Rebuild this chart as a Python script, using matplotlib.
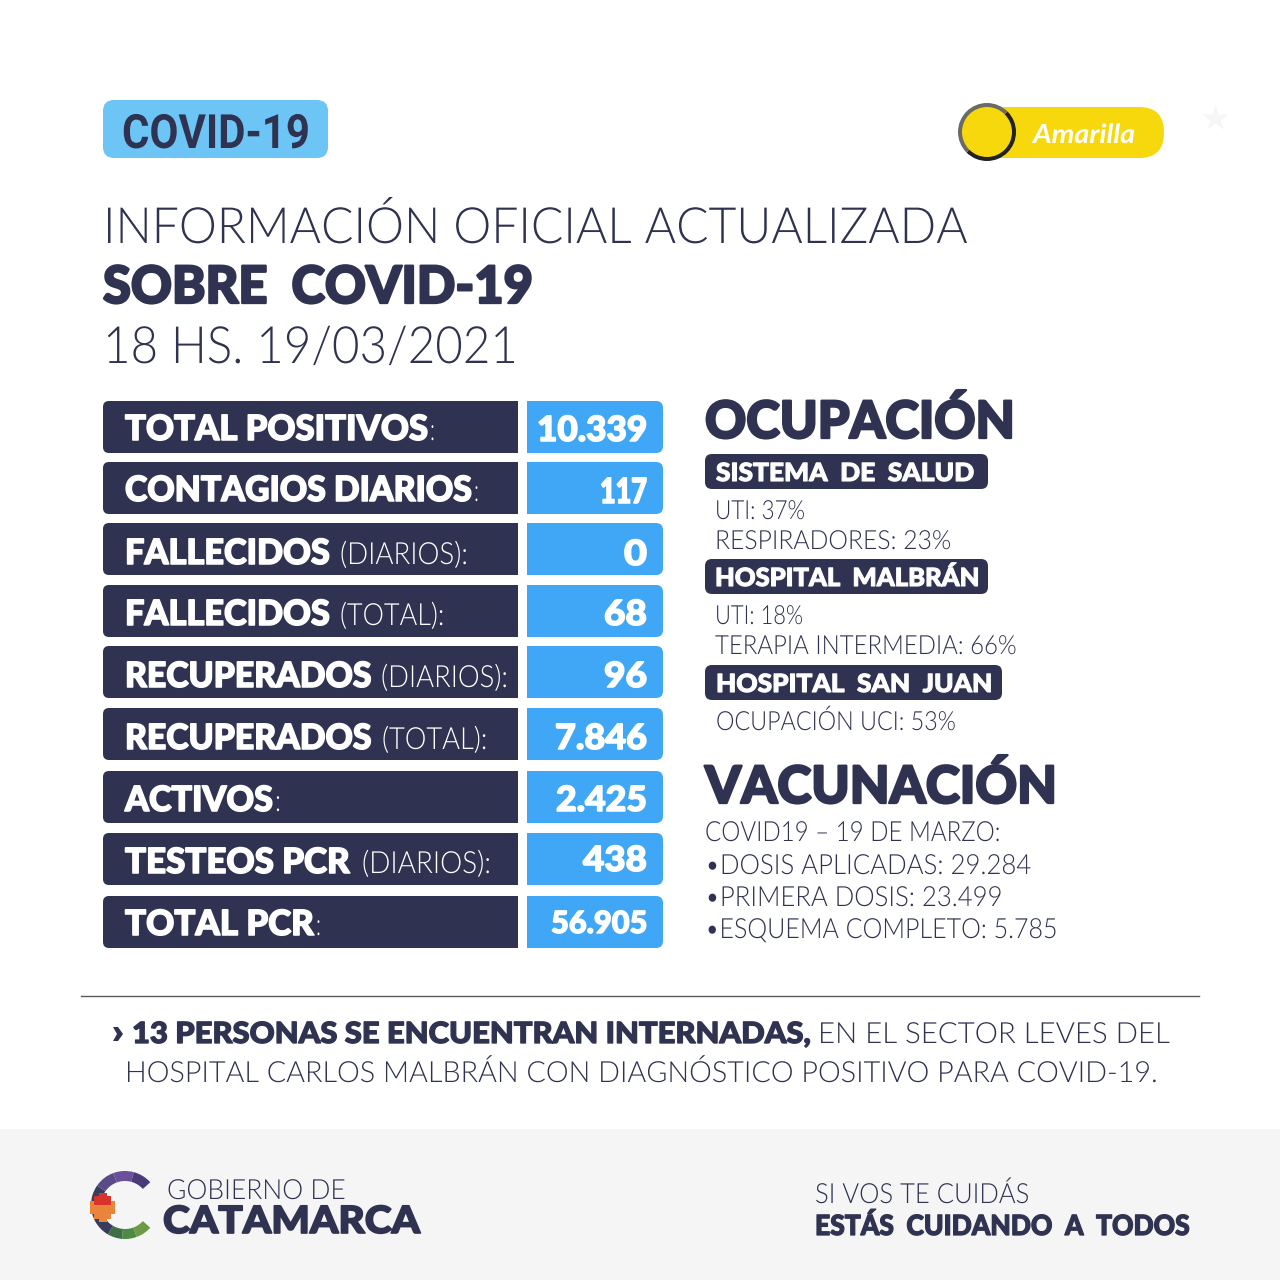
import matplotlib
matplotlib.use("Agg")
import matplotlib.pyplot as plt
from matplotlib.patches import FancyBboxPatch, Rectangle, Circle, Wedge, Polygon
from matplotlib.patheffects import AbstractPathEffect
from matplotlib.transforms import Affine2D

# Colours
DARK = "#2f3250"
BLUE = "#3fa7f5"
BADGE = "#6cc5f4"
YELLOW = "#f7d80c"

LIGHT_FONT = ["Lato", "DejaVu Sans"]
HEAVY_FONT = ["Lato", "DejaVu Sans"]

# Table data
row_labels = ["TOTAL POSITIVOS", "CONTAGIOS DIARIOS", "FALLECIDOS", "FALLECIDOS", "RECUPERADOS",
              "RECUPERADOS", "ACTIVOS", "TESTEOS PCR", "TOTAL PCR"]
row_suffix = [":", ":", "(DIARIOS):", "(TOTAL):", "(DIARIOS):", "(TOTAL):", ":", "(DIARIOS):", ":"]
row_values = ["10.339", "117", "0", "68", "96", "7.846", "2.425", "438", "56.905"]

# Pixel layout of the rows
row_top = [401, 462, 523, 585, 646, 708, 771, 833, 896]
label_base = [440, 501, 564, 625, 687, 749, 811, 873, 935]
value_base = [441, 503, 565, 625, 687, 749, 811, 871, 933]
value_cap = [25, 25, 25, 25, 25, 25, 25, 25, 22]
label_end = [428, 472, 330, 330, 372, 372, 273, 350, 314]
suffix_start = [430, 474, 340, 340, 381, 382, 275, 362, 316]
suffix_end = [435, 479, 467, 444, 507, 487, 281, 490, 321]
value_start = [537, 600, 624, 604, 604, 555, 556, 583, 551]

# Occupation block
occ_titles = ["SISTEMA  DE  SALUD", "HOSPITAL  MALBRÁN", "HOSPITAL  SAN  JUAN"]
occ_lines = ["UTI: 37%", "RESPIRADORES: 23%", "UTI: 18%", "TERAPIA INTERMEDIA: 66%", "OCUPACIÓN UCI: 53%"]
vac_lines = ["COVID19 – 19 DE MARZO:", "•DOSIS APLICADAS: 29.284", "•PRIMERA DOSIS: 23.499", "•ESQUEMA COMPLETO: 5.785"]

fig = plt.figure(figsize=(12.8, 12.8), dpi=100)
ax = fig.add_axes([0, 0, 1, 1])
ax.set_xlim(0, 1280)
ax.set_ylim(1280, 0)
ax.axis("off")
renderer = fig.canvas.get_renderer()


class Stretch(AbstractPathEffect):
    # widen or narrow the glyphs around the text origin, optional outline to make them heavier
    def __init__(self, sx, thick=0):
        super().__init__()
        self.sx = sx
        self.thick = thick

    def draw_path(self, renderer, gc, tpath, affine, rgbFace=None):
        gc0 = renderer.new_gc()
        gc0.copy_properties(gc)
        gc0.set_foreground(rgbFace)
        gc0.set_linewidth(self.thick)
        renderer.draw_path(gc0, tpath, Affine2D().scale(self.sx, 1) + affine, rgbFace)
        gc0.restore()


def put(x0, x1, base, s, cap, font=LIGHT_FONT, weight=300, color=DARK, style="normal", zorder=5):
    # text spanning x0..x1 with caps of cap px (pt size == cap px at dpi 100, cap ratio 0.72)
    t = ax.text(x0, base, s, family=font, fontweight=weight, color=color, fontstyle=style,
                fontsize=cap, ha="left", va="baseline", zorder=zorder)
    w = t.get_window_extent(renderer).width
    thick = cap * 0.045 if weight == "black" else 0
    t.set_path_effects([Stretch((x1 - x0) / w, thick)])
    return t


def rbox(x0, y0, x1, y1, r, color, zorder=2):
    ax.add_patch(FancyBboxPatch((x0 + r, y0 + r), x1 - x0 - 2 * r, y1 - y0 - 2 * r,
                                boxstyle=f"round,pad={r},rounding_size={r}", fc=color, ec="none", zorder=zorder))


# Header
rbox(103, 100, 328, 158, 11, BADGE)
put(122, 310, 148, "COVID-19", 34, font=["Roboto", "DejaVu Sans"], weight="bold")

rbox(965, 107, 1164, 158, 25, YELLOW)
ax.add_patch(Circle((987, 132), 27, fc=YELLOW, ec="none", zorder=3))
ax.add_patch(Wedge((987, 132), 29, 315, 135, width=4, fc="#222222", ec="none", zorder=4))
ax.add_patch(Wedge((987, 132), 29, 135, 315, width=4, fc="#6a6a66", ec="none", zorder=4))
put(1033, 1135, 143, "Amarilla", 19, font=["Lato", "DejaVu Sans"], weight="bold", color="white", style="italic")
ax.plot([1215], [118], marker="*", ms=20, color="#f6f6f6", mec="none", zorder=1)

put(103, 968, 243, "INFORMACIÓN OFICIAL ACTUALIZADA", 36)
put(103, 533, 303, "SOBRE  COVID-19", 37, font=HEAVY_FONT, weight="black")
put(103, 518, 363, "18 HS. 19/03/2021", 37)

# Table
row_h = 52
for i, lab in enumerate(row_labels):
    top = row_top[i]
    bottom = top + row_h
    rbox(103, top, 130, bottom, 6, DARK)
    ax.add_patch(Rectangle((115, top), 403, row_h, fc=DARK, ec="none", zorder=2))
    rbox(630, top, 663, bottom, 7, BLUE)
    ax.add_patch(Rectangle((527, top), 115, row_h, fc=BLUE, ec="none", zorder=2))
    put(125, label_end[i], label_base[i], lab, 25, font=HEAVY_FONT, weight="black", color="white")
    put(suffix_start[i], suffix_end[i], label_base[i], row_suffix[i], 22, color="white")
    put(value_start[i], 647, value_base[i], row_values[i], value_cap[i], font=HEAVY_FONT, weight="black", color="white")

# Occupation
put(705, 1015, 438, "OCUPACIÓN", 37, font=HEAVY_FONT, weight="black")
pill_y = [454, 559, 665]
pill_x1 = [988, 988, 1002]
pill_text = [(716, 974), (715, 979), (716, 992)]
for title, y, x1, tx in zip(occ_titles, pill_y, pill_x1, pill_text):
    rbox(705, y, x1, y + 35, 7, DARK)
    put(tx[0], tx[1], y + 27, title, 18, font=HEAVY_FONT, weight="black", color="white")

occ_x = [(715, 805), (715, 951), (715, 803), (715, 1016), (716, 955)]
occ_base = [519, 549, 624, 654, 730]
for line, xs, base in zip(occ_lines, occ_x, occ_base):
    put(xs[0], xs[1], base, line, 19)

# Vaccination
put(705, 1057, 803, "VACUNACIÓN", 37, font=HEAVY_FONT, weight="black")
vac_x1 = [1000, 1031, 1002, 1057]
vac_base = [841, 874, 906, 938]
for line, x1, base in zip(vac_lines, vac_x1, vac_base):
    put(705, x1, base, line, 20)

# Note
ax.plot([81, 1199], [996, 996], color="#5a5a5a", lw=1, zorder=2)
ax.add_patch(Polygon([(113, 1027), (118, 1027), (123, 1034), (118, 1041), (113, 1041), (117, 1034)],
                     fc=DARK, ec="none", zorder=3))
put(132, 811, 1043, "13 PERSONAS SE ENCUENTRAN INTERNADAS,", 21, font=HEAVY_FONT, weight="black")
put(818, 1168, 1043, "EN EL SECTOR LEVES DEL", 21)
put(125, 1155, 1082, "HOSPITAL CARLOS MALBRÁN CON DIAGNÓSTICO POSITIVO PARA COVID-19.", 21)

# Footer
ax.add_patch(Rectangle((0, 1129), 1280, 151, fc="#f5f5f6", ec="none", zorder=0))
logo_c = (125, 1205)
# y axis is flipped: angles run clockwise on screen, 180 is the left side
logo_parts = [(180, 215, "#3a3c5c"), (215, 250, "#5a4a88"), (250, 285, "#6b4f9a"), (285, 318, "#4a3a78"),
              (42, 70, "#6f9a45"), (70, 95, "#4e8a46"), (95, 120, "#3f6f45"), (120, 180, "#3a3c5c")]
for a0, a1, col in logo_parts:
    ax.add_patch(Wedge(logo_c, 34, a0, a1, width=10, fc=col, ec="none", zorder=2))
ax.add_patch(Polygon([(90, 1201), (94, 1201), (94, 1196), (99, 1196), (99, 1193), (107, 1193), (107, 1196),
                      (111, 1196), (111, 1201), (115, 1201), (115, 1214), (111, 1214), (111, 1219), (107, 1219),
                      (107, 1222), (99, 1222), (99, 1219), (94, 1219), (94, 1214), (90, 1214)],
                     fc="#e9843a", ec="none", zorder=3))
ax.add_patch(Polygon([(94, 1205), (94, 1196), (99, 1196), (99, 1193), (107, 1193), (107, 1196), (111, 1196), (111, 1205)],
                     fc="#d8342c", ec="none", zorder=4))
put(167, 345, 1199, "GOBIERNO DE", 20)
put(163, 420, 1233, "CATAMARCA", 27, font=HEAVY_FONT, weight="black")
put(815, 1029, 1203, "SI VOS TE CUIDÁS", 20)
put(815, 1190, 1235, "ESTÁS  CUIDANDO  A  TODOS", 20, font=HEAVY_FONT, weight="black")

fig.savefig("out.png", dpi=100)
